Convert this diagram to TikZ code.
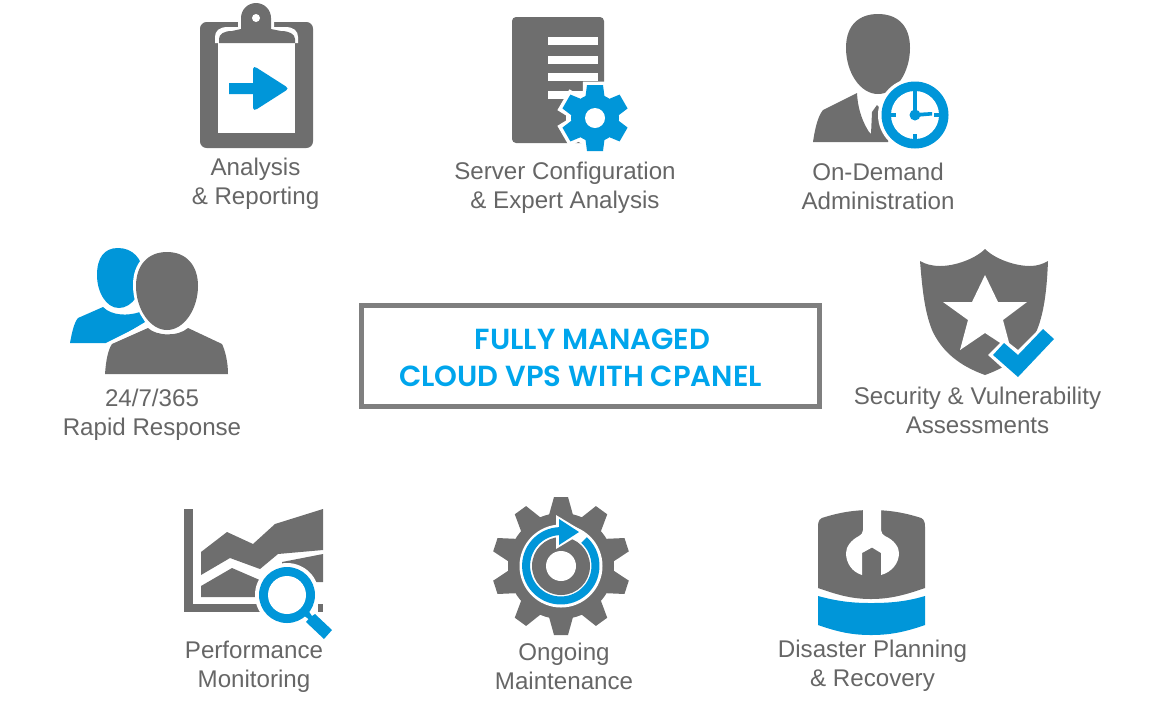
\documentclass[tikz,border=0pt]{standalone}
\usepackage{fontspec}
\setmainfont{Liberation Sans}
\newfontfamily\titlefont{Poppins SemiBold}
\definecolor{icongray}{HTML}{6E6E6E}
\definecolor{iconblue}{HTML}{0096D9}
\definecolor{titleblue}{HTML}{00A5EC}
\definecolor{labelgray}{HTML}{666666}
\definecolor{boxgray}{HTML}{7F7F7F}
\tikzset{
  ig/.style={fill=icongray,draw=none},
  ib/.style={fill=iconblue,draw=none},
  iw/.style={fill=white,draw=none},
  lab/.style={text=labelgray,font=\fontsize{18.1}{21.8}\selectfont,align=center,inner sep=0pt,anchor=center},
  ttl/.style={text=titleblue,font=\titlefont\fontsize{21.8}{24}\selectfont,inner sep=0pt,anchor=center},
}
\begin{document}
\begin{tikzpicture}[x=0.75pt,y=-0.75pt]
\useasboundingbox (0,0) rectangle (1152,701);
% ---- clipboard
\fill[ig,rounded corners=5pt] (200,22) rectangle (313,148);
\fill[iw] (215,43) -- (215,37) .. controls (215,31) and (219,27) .. (228,27) -- (238,27) -- (238,21) -- (274,21) -- (274,27) -- (285,27) .. controls (294,27) and (298,31) .. (298,37) -- (298,43) -- cycle;
\fill[iw] (218,43) rectangle (295,133);
\fill[ig] (219,43) -- (219,39) .. controls (219,34) and (224,31) .. (232,31) -- (241,29) -- (271,29) -- (281,31) .. controls (289,31) and (295,34) .. (295,39) -- (295,43) -- cycle;
\fill[ig] (241,32) -- (241,18) arc[start angle=180,end angle=360,radius=15] -- (271,32) -- cycle;
\fill[iw] (256,18) circle (4);
\fill[ib] (229,83) -- (253,83) -- (253,69) .. controls (253,67) and (255,66) .. (257,68) -- (286,86.5) .. controls (288,88) and (288,89) .. (286,90.5) -- (257,109) .. controls (255,110.5) and (253,110) .. (253,108) -- (253,94) -- (229,94) -- cycle;
% ---- document + gear
\fill[ig,rounded corners=3pt] (512,17) rectangle (604,143);
\foreach \y in {37,56,73,91} \fill[iw] (548,\y) rectangle (598,\y+7.5);
\fill[iw] (595,118) circle (29);
\foreach \a in {0,60,120,180,240,300}
  \fill[iw,rotate around={\a:(595,118)}] (582,118) -- (583,81.5) -- (607,81.5) -- (608,118) -- cycle;
\fill[ib] (595,118) circle (24);
\foreach \a in {0,60,120,180,240,300}
  \fill[ib,rotate around={\a:(595,118)}] (584,108) -- (587,85) -- (603,85) -- (606,108) -- cycle;
\fill[iw] (595,118) circle (10);
% ---- person + clock
\fill[ig] (878,14) .. controls (860,14) and (846,24) .. (846,48) .. controls (846,72) and (860,94) .. (878,94) .. controls (896,94) and (910,72) .. (910,48) .. controls (910,24) and (896,14) .. (878,14) -- cycle;
\fill[ig] (813,142) .. controls (815,128) and (818,116) .. (823,110) -- (857,93) .. controls (858,112) and (864,124) .. (869,132) -- (871,134) -- (872,112) -- (877,105) -- (884,113) -- (895,125) -- (888,142) -- cycle;
\fill[iw] (915,115) circle (37);
\fill[ib] (915,115) circle (33.5);
\fill[iw] (915,115) circle (24);
\foreach \a in {0,90,180,270}
  \fill[ib,rotate around={\a:(915,115)}] (913,91) rectangle (917,96);
\fill[ib] (915,115) circle (5.5);
\fill[ib] (913,115) rectangle (917,92);
\fill[ib] (915,113) -- (932,112) -- (932,115.5) -- (915,117) -- cycle;
% ---- users
\fill[ib] (118,248) .. controls (104,248) and (97,258) .. (97,275) .. controls (97,292) and (106,308) .. (119,308) .. controls (132,308) and (143,292) .. (143,275) .. controls (143,258) and (132,248) .. (118,248) -- cycle;
\fill[ib] (70,343) .. controls (72,332) and (74,323) .. (78,318) -- (103,307) .. controls (112,316) and (128,316) .. (140,312) -- (145,322) -- (110,343) -- cycle;
\fill[iw] (167,249) .. controls (146,249) and (133,263) .. (133,285) .. controls (133,310) and (148,333) .. (167,333) .. controls (186,333) and (201,310) .. (201,285) .. controls (201,263) and (188,249) .. (167,249) -- cycle;
\fill[iw] (102,377) -- (106,343) -- (146,323) -- (190,323) -- (232,345) -- (232,377) -- cycle;
\fill[ig] (167,252) .. controls (148,252) and (136,265) .. (136,286) .. controls (136,309) and (150,330) .. (167,330) .. controls (184,330) and (198,309) .. (198,286) .. controls (198,265) and (186,252) .. (167,252) -- cycle;
\fill[ig] (105,374) .. controls (106,360) and (108,350) .. (112,344) -- (148,328) .. controls (156,336) and (178,337) .. (188,328) -- (222,344) .. controls (225,350) and (228,362) .. (228,374) -- cycle;
% ---- shield
\fill[ig] (985,249) .. controls (975,259) and (955,266) .. (940,266) .. controls (932,266) and (925,264) .. (920,261) .. controls (922,285) and (924,310) .. (932,330) .. controls (942,352) and (960,366) .. (985,375) .. controls (1010,366) and (1028,352) .. (1037,330) .. controls (1045,310) and (1047,285) .. (1048,261) .. controls (1043,264) and (1037,266) .. (1030,266) .. controls (1015,266) and (995,259) .. (985,249) -- cycle;
\fill[iw] (985,275) -- (998,302) -- (1027,302) -- (1003,320) -- (1011,350) -- (985,333) -- (960,350) -- (968,320) -- (943,302) -- (972,302) -- cycle;
\fill[iw] (988,355) -- (1004,339) -- (1018,350) -- (1044,324) -- (1059,339) -- (1018,382) -- cycle;
\fill[ib] (993,355) -- (1004,343) -- (1018,355) -- (1043,329) -- (1054,339) -- (1018,377) -- cycle;
% ---- chart
\fill[ig] (184,509) rectangle (193,612);
\fill[ig] (184,604) rectangle (262,612);
\fill[ig] (201,552) -- (227,532) -- (253,544) -- (275,524) -- (323,509) -- (323,550) -- (278,554) -- (260,569) -- (230,558) -- (201,575) -- cycle;
\fill[ig] (201,586) -- (232,568) -- (262,581) -- (262,597) -- (201,597) -- cycle;
\fill[ig] (282,562) -- (323,554) -- (323,582) -- (282,582) -- cycle;
\fill[ig] (318,604) rectangle (323,612);
\fill[iw] (287,595) circle (32);
\fill[ib] (287,595) circle (28);
\fill[iw] (287,595) circle (19);
\fill[ib] (303,615) -- (308,610) -- (312,616) -- (315,614) -- (332,630) -- (324,639) -- (306,622) -- (308.5,619) -- cycle;
% ---- big gear
\foreach \a in {0,36,...,324}
  \fill[ig,rotate around={\a:(561,566)}] (549,566) -- (549,515) -- (554,497) -- (568,497) -- (573,515) -- (573,566) -- cycle;
\fill[ig] (561,566) circle (53);
\fill[iw] (561,566) circle (41.5);
\fill[ig] (561,566) circle (29);
\fill[iw] (561,566) circle (15);
\fill[iw] (556,515) -- (584,532) -- (556,549) -- cycle;
\draw[draw=iconblue,line width=6pt] (584,540) arc[start angle=-48,end angle=268,radius=34.7];
\fill[ib] (559,519) -- (579,532) -- (559,545) -- cycle;
% ---- drum
\fill[ig] (818,527) .. controls (818,520) and (820,518) .. (825,517) .. controls (835,514) and (850,510) .. (871,510) .. controls (893,510) and (908,514) .. (918,517) .. controls (923,518) and (925,520) .. (925,527) -- (925,588) .. controls (905,595) and (890,599) .. (871,599) .. controls (852,599) and (838,595) .. (818,588) -- cycle;
\fill[ib] (818,596) .. controls (840,602) and (855,603) .. (871,603) .. controls (888,603) and (905,602) .. (925,596) -- (925,625) .. controls (905,632) and (890,635) .. (871,635) .. controls (852,635) and (838,632) .. (818,625) -- cycle;
\fill[iw] (863,505) -- (881,505) -- (881,530) .. controls (881,533) and (883,535) .. (885,536) .. controls (894,540) and (899,547) .. (899,553) .. controls (899,563) and (892,572) .. (881,575) -- (881,553) -- (872,547.5) -- (862,553) -- (862,575) .. controls (852,572) and (846,563) .. (846,553) .. controls (846,547) and (851,540) .. (859,536) .. controls (861,535) and (863,533) .. (863,530) -- cycle;
% ---- centre box
\node[draw=boxgray,line width=3.75pt,inner sep=0pt,outer sep=0pt,minimum width=343.5pt,minimum height=75.75pt] (box) at (590.5,356) {};
\node[ttl] (t1) at (592.5,339) {FULLY MANAGED};
\node[ttl] (t2) at (580.5,376) {CLOUD VPS WITH CPANEL};
% ---- labels
\node[lab] (l1) at (255.5,183.5) {Analysis\\\& Reporting};
\node[lab] (l2) at (565,187.5) {Server Configuration\\\& Expert Analysis};
\node[lab] (l3) at (878,186.5) {On-Demand\\Administration};
\node[lab] (l4) at (152,415) {24/7/365\\Rapid Response};
\node[lab] (l5) at (977.5,410.5) {Security \& Vulnerability\\Assessments};
\node[lab] (l6) at (254,667) {Performance\\Monitoring};
\node[lab] (l7) at (564,666) {Ongoing\\Maintenance};
\node[lab] (l8) at (872.5,666) {Disaster Planning\\\& Recovery};
\end{tikzpicture}
\end{document}
